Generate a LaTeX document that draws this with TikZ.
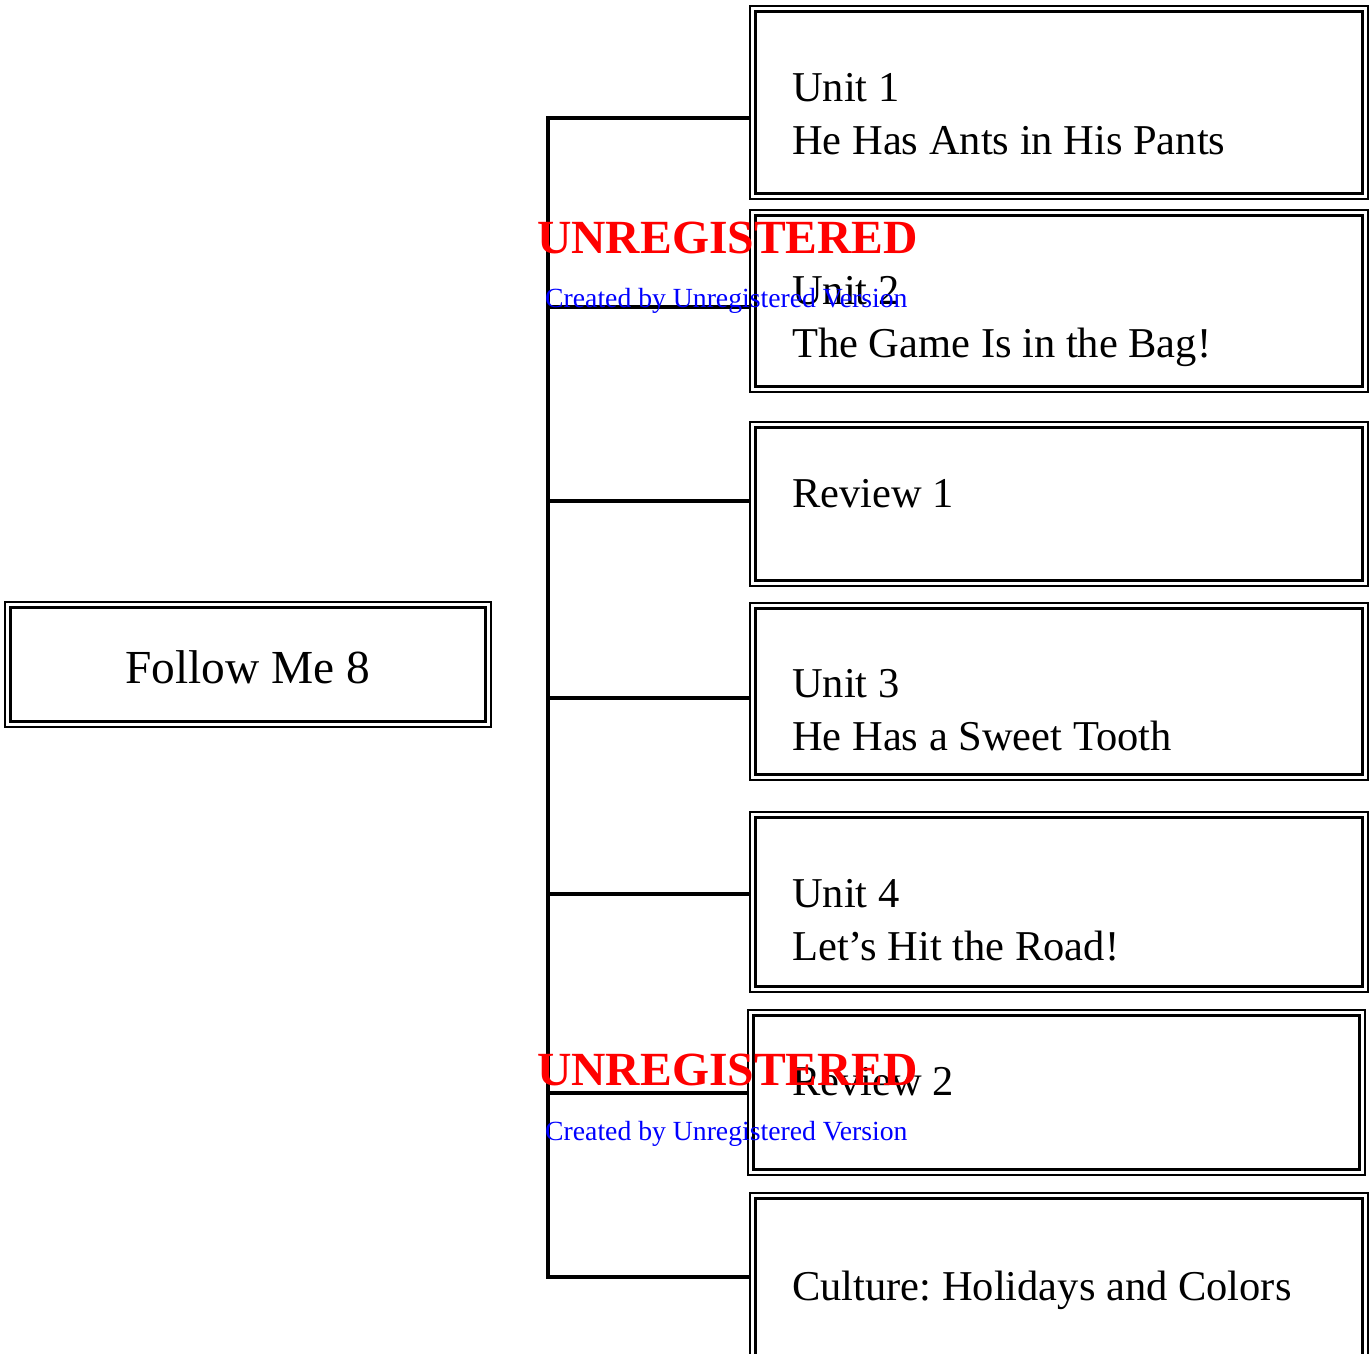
\documentclass[tikz,border=0pt]{standalone}
\usepackage{fontspec}
\setmainfont{Liberation Serif}
\frenchspacing
\tikzset{
  outerrule/.style={draw=black, line width=1.8pt},
  innerrule/.style={draw=black, line width=3pt, inner sep=0pt, outer sep=7pt, rectangle},
  conn/.style={draw=black, line width=3.2pt},
  boxtext/.style={anchor=base west, inner sep=0pt, align=left, font=\fontsize{42.5}{52.5}\selectfont},
  roottext/.style={anchor=base, inner sep=0pt, font=\fontsize{47.4}{56}\selectfont},
  wmbig/.style={anchor=base west, inner sep=0pt, text={rgb,255:red,255;green,0;blue,0}, font=\bfseries\fontsize{47.6}{56}\selectfont},
  wmsmall/.style={anchor=base west, inner sep=0pt, text={rgb,255:red,0;green,0;blue,255}, font=\fontsize{27.7}{33}\selectfont}
}
\newcommand\dbox[5]{%
  \draw[outerrule] (#2,#3) rectangle (#4,#5);
  \node[innerrule, minimum width={#4-#2-11}, minimum height={#5-#3-11}] (#1) at ({(#2+#4)/2},{(#3+#5)/2}) {};
}
\begin{document}
\begin{tikzpicture}[x=1pt,y=-1pt]
\useasboundingbox (0,0) rectangle (1370,1353);
\clip (0,0) rectangle (1370,1353);
\fill[white] (0,0) rectangle (1370,1353);
% boxes
\dbox{root}{5}{602}{491}{727}
\dbox{u1}{750}{6}{1368}{199}
\dbox{u2}{750}{210}{1368}{392}
\dbox{r1}{750}{422}{1368}{586}
\dbox{u3}{750}{603}{1368}{780}
\dbox{u4}{750}{812}{1368}{992}
\dbox{r2}{748}{1010}{1365}{1175}
\dbox{cu}{750}{1193}{1368}{1370}
% texts (base anchor = baseline of the last line)
\node[roottext] (troot) at (248,683) {Follow Me 8};
\node[boxtext] (tu1) at (792,154) {Unit 1\\He Has Ants in His Pants};
\node[boxtext] (tu2) at (792,357) {Unit 2\\The Game Is in the Bag!};
\node[boxtext] (tr1) at (792,507) {Review 1};
\node[boxtext] (tu3) at (792,750) {Unit 3\\He Has a Sweet Tooth};
\node[boxtext] (tu4) at (792,960) {Unit 4\\Let’s Hit the Road!};
\node[boxtext] (tr2) at (792,1095) {Review 2};
\node[boxtext] (tcu) at (792,1300) {Culture: Holidays and Colors};
% connectors
\coordinate (b1) at (548,118);
\coordinate (b2) at (548,307);
\coordinate (b3) at (548,501);
\coordinate (b4) at (548,698);
\coordinate (b5) at (548,894);
\coordinate (b6) at (548,1093);
\coordinate (b7) at (548,1277);
\draw[conn, line cap=rect] (b1) -- (b7);
\foreach \b/\n in {1/u1,2/u2,3/r1,4/u3,5/u4,6/r2,7/cu}
  \draw[conn] (b\b) -- (b\b -| \n.west);
% watermarks
\node[wmbig] (wm1) at (537,253) {UNREGISTERED};
\node[wmsmall] (wc1) at (545,307) {Created by Unregistered Version};
\node[wmbig] (wm2) at (537,1085) {UNREGISTERED};
\node[wmsmall] (wc2) at (545,1140) {Created by Unregistered Version};
\end{tikzpicture}
\end{document}
